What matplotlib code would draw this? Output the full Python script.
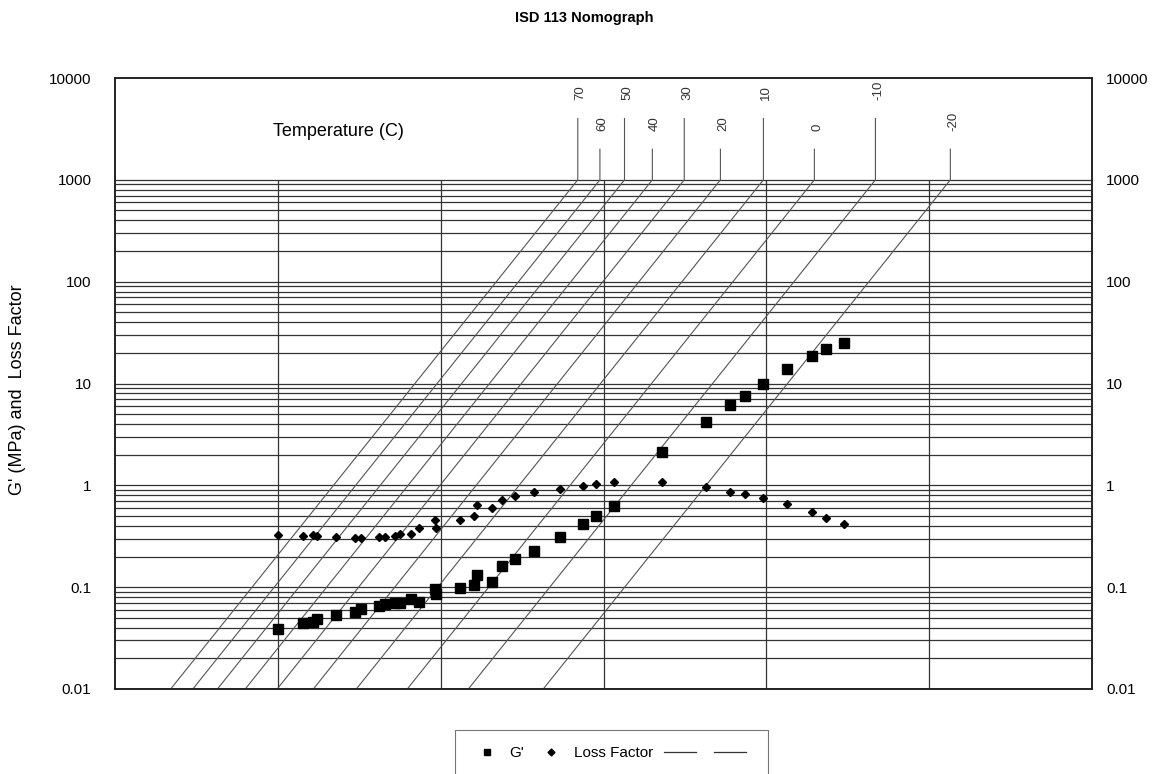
import numpy as np
import matplotlib
matplotlib.use("Agg")
import matplotlib.pyplot as plt
from matplotlib.lines import Line2D

plt.rcParams['font.family'] = ['Liberation Sans', 'DejaVu Sans']

# reduced frequency axis (arbitrary log units, 0..6)
x_vals = [1.003, 1.157, 1.218, 1.243, 1.359, 1.476, 1.509, 1.623, 1.658, 1.720,
          1.751, 1.818, 1.865, 1.964, 1.974, 2.119, 2.205, 2.224, 2.314, 2.375,
          2.457, 2.576, 2.733, 2.875, 2.955, 3.067, 3.362, 3.628, 3.779, 3.868,
          3.979, 4.128, 4.280, 4.367, 4.478]
g_prime = [0.0387, 0.0446, 0.0456, 0.0482, 0.0534, 0.0568, 0.0604, 0.0646, 0.0681, 0.0701,
           0.0707, 0.0768, 0.0718, 0.0949, 0.0848, 0.0978, 0.1046, 0.131, 0.112, 0.163,
           0.187, 0.229, 0.310, 0.416, 0.495, 0.625, 2.13, 4.18, 6.09, 7.57,
           9.93, 13.9, 18.6, 21.6, 25.1]
loss_factor = [0.326, 0.315, 0.322, 0.317, 0.310, 0.303, 0.303, 0.310, 0.310, 0.315,
               0.332, 0.332, 0.382, 0.455, 0.377, 0.452, 0.502, 0.635, 0.601, 0.716,
               0.778, 0.852, 0.911, 0.989, 1.027, 1.082, 1.068, 0.954, 0.857, 0.820,
               0.744, 0.658, 0.542, 0.479, 0.413]

# temperature isotherms: position where each line meets the 1000 grid line
temps = [70, 60, 50, 40, 30, 20, 10, 0, -10, -20]
temp_x = [2.842, 2.978, 3.129, 3.300, 3.496, 3.718, 3.982, 4.295, 4.670, 5.130]
temp_top = [4000, 2000, 4000, 2000, 4000, 2000, 4000, 2000, 4000, 2000]
SLOPE = 2.0  # decades per x unit

y_ticks = [0.01, 0.1, 1, 10, 100, 1000, 10000]
y_tick_labels = ['0.01', '0.1', '1', '10', '100', '1000', '10000']

fig = plt.figure(figsize=(11.68, 7.74), dpi=100)
ax = fig.add_axes([115/1168, 1 - 689/774, 977/1168, (689-78)/774])
ax.set_yscale('log')
ax.set_xlim(0, 6)
ax.set_ylim(0.01, 10000)

# grid only from 0.01 to 1000
grid_y = [m * 10.0**e for e in range(-2, 3) for m in range(1, 10)] + [1000]
ax.hlines(grid_y, 0, 6, colors='#333333', linewidth=0.9, zorder=1)
ax.vlines([1, 2, 3, 4, 5], 0.01, 1000, colors='#333333', linewidth=0.9, zorder=1)

for t, xt, top in zip(temps, temp_x, temp_top):
    x0 = xt - 5.0 / SLOPE
    ax.plot([x0, xt, xt], [0.01, 1000, top], color='#555555', linewidth=0.8, zorder=2)
    ax.annotate(str(t), (xt, top), xytext=(2, 13), textcoords='offset points',
                rotation=90, ha='center', va='bottom', fontsize=9.5, color='#333333')

ax.text(0.97, 3000, 'Temperature (C)', fontsize=13, ha='left', va='center')

ax.plot(x_vals, g_prime, linestyle='none', marker='s', markersize=6.5,
        color='black', zorder=4)
ax.plot(x_vals, loss_factor, linestyle='none', marker='D', markersize=4,
        color='black', zorder=4)

ax.set_xticks([])
ax.set_yticks(y_ticks)
ax.set_yticklabels(y_tick_labels)
ax.yaxis.set_minor_locator(matplotlib.ticker.NullLocator())
ax.tick_params(axis='y', which='both', length=0, labelsize=11, pad=17)
for s in ax.spines.values():
    s.set_linewidth(1.4)
    s.set_color('#222222')

# right-hand copy of the y axis labels
ax2 = ax.twinx()
ax2.set_yscale('log')
ax2.set_ylim(0.01, 10000)
ax2.set_yticks(y_ticks)
ax2.set_yticklabels(y_tick_labels)
ax2.yaxis.set_minor_locator(matplotlib.ticker.NullLocator())
ax2.tick_params(axis='y', which='both', length=0, labelsize=11, pad=10)
for s in ax2.spines.values():
    s.set_visible(False)

ax.set_ylabel("G' (MPa) and  Loss Factor", fontsize=13)
ax.yaxis.set_label_coords(-0.091, 0.49)

fig.text(0.5, 1 - 18/774, 'ISD 113 Nomograph', ha='center', va='center',
         fontsize=10.5, fontweight='bold')

handles = [Line2D([], [], linestyle='none', marker='s', markersize=5, color='black'),
           Line2D([], [], linestyle='none', marker='D', markersize=3.5, color='black'),
           Line2D([], [], color='#333333', linewidth=0.9),
           Line2D([], [], color='#333333', linewidth=0.9)]
leg = fig.legend(handles, ["G'", 'Loss Factor', '', ''], ncol=4, fontsize=11,
                 loc='upper left', bbox_to_anchor=(455/1168, 1 - 730/774),
                 borderaxespad=0, frameon=True, fancybox=False, edgecolor='#555555',
                 handlelength=2.1, handletextpad=0.4, columnspacing=0.75,
                 borderpad=1.05)
leg.get_frame().set_linewidth(0.8)

fig.savefig('out.png', dpi=100)
